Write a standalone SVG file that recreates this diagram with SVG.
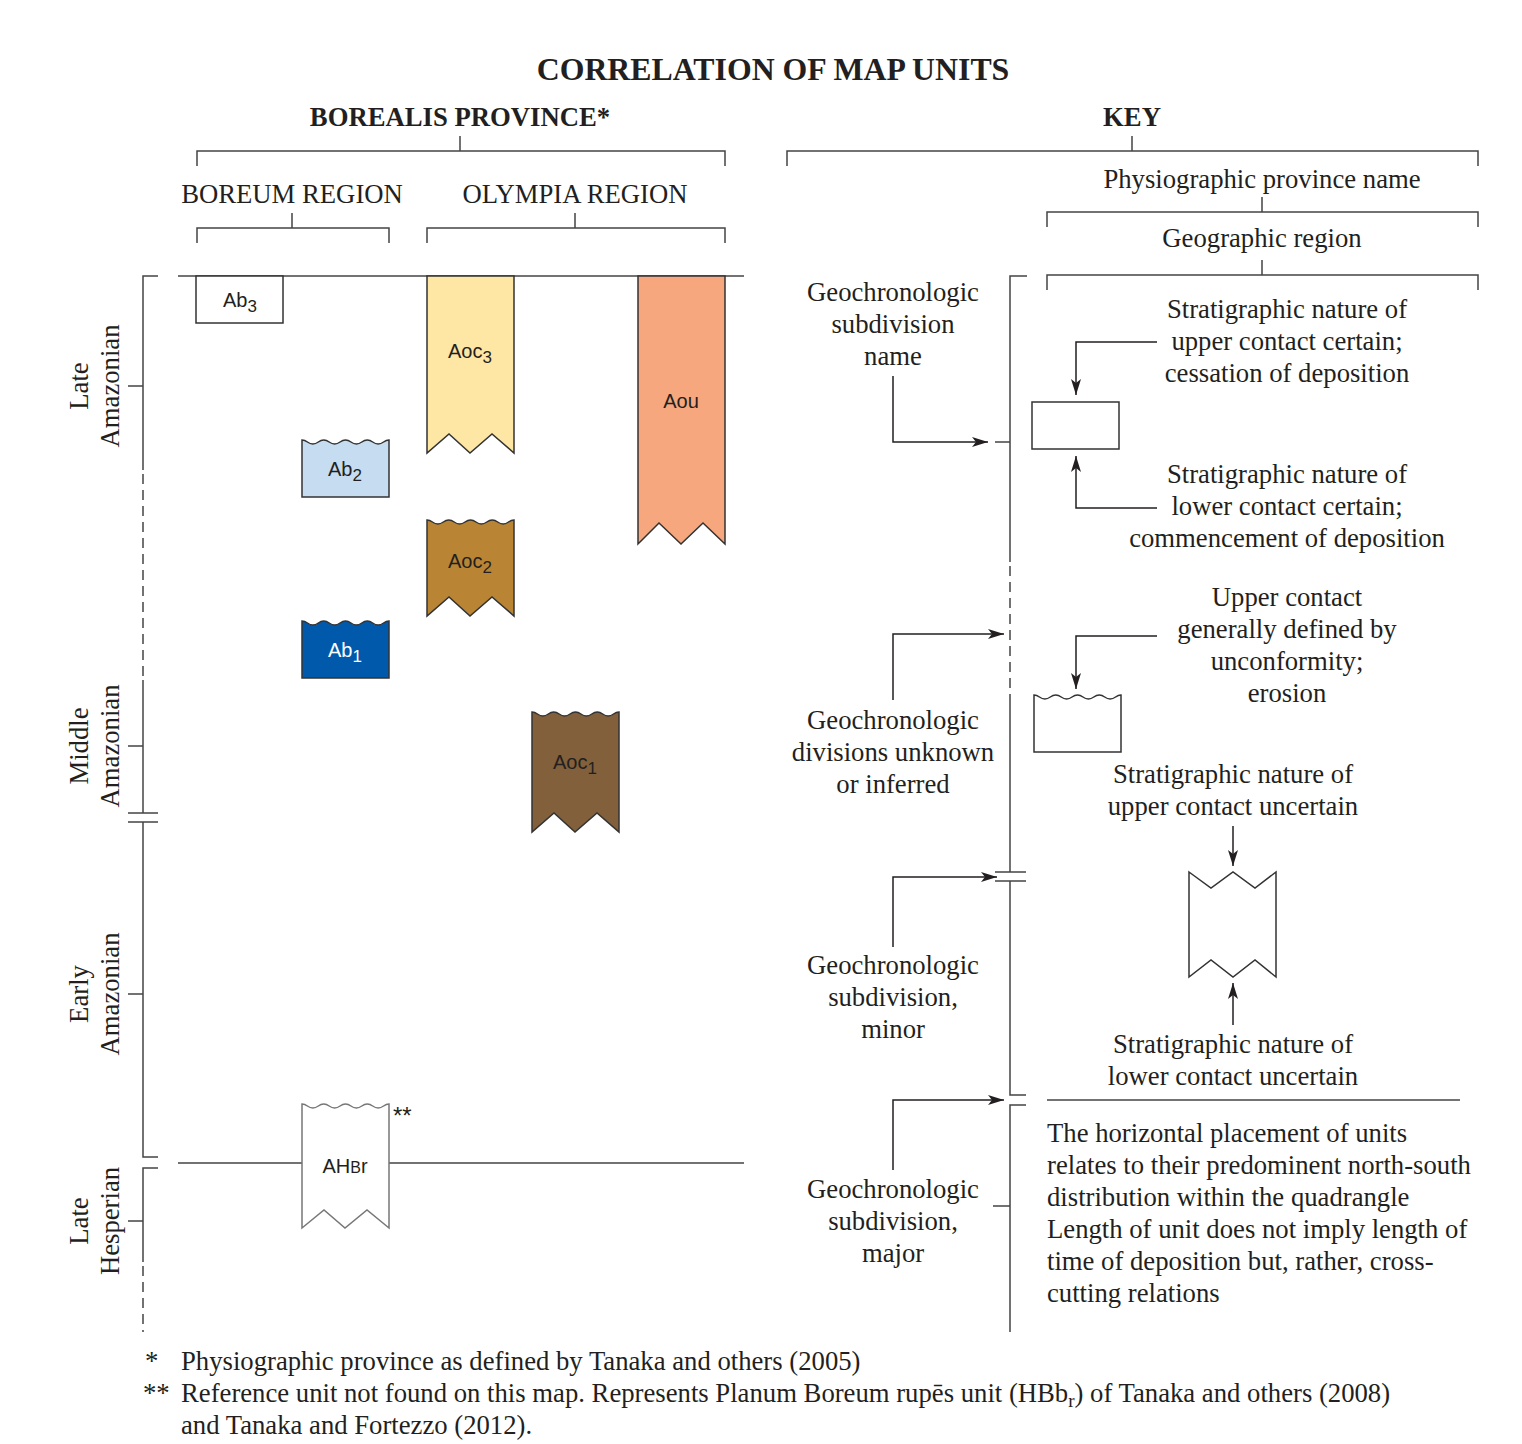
<svg xmlns="http://www.w3.org/2000/svg" width="1522" height="1444" viewBox="0 0 1522 1444">
<defs>
<style>
.serif{font-family:"Liberation Serif","Times New Roman",serif;fill:#231f20}
.t26{font-size:26.7px}
.bold{font-weight:bold}
.sans{font-family:"Liberation Sans",Arial,sans-serif;font-size:20px;fill:#231f20}
.ln{fill:none;stroke:#444;stroke-width:1.5}
.dash{fill:none;stroke:#444;stroke-width:1.5;stroke-dasharray:10 6}
.conn{fill:none;stroke:#231f20;stroke-width:1.5}
.unit{stroke:#333;stroke-width:1.5}
</style>
<marker id="ah" viewBox="0 0 16 10" refX="16" refY="5" markerWidth="16" markerHeight="10" markerUnits="userSpaceOnUse" orient="auto">
<path d="M0,0 L16,5 L0,10 L4,5 Z" fill="#231f20"/>
</marker>
</defs>
<rect width="1522" height="1444" fill="#fff"/>

<!-- Titles -->
<g id="titles">
<text class="serif bold" x="773" y="80" font-size="31.8" text-anchor="middle">CORRELATION OF MAP UNITS</text>
<text class="serif bold t26" x="460" y="126" text-anchor="middle">BOREALIS PROVINCE*</text>
<text class="serif bold t26" x="1132" y="126" text-anchor="middle">KEY</text>
<text class="serif t26" x="292" y="203" text-anchor="middle">BOREUM REGION</text>
<text class="serif t26" x="575" y="203" text-anchor="middle">OLYMPIA REGION</text>
<text class="serif t26" x="1262" y="188" text-anchor="middle">Physiographic province name</text>
<text class="serif t26" x="1262" y="247" text-anchor="middle">Geographic region</text>
</g>

<!-- Brackets and axes -->
<g id="frame">
<path class="ln" d="M460,136 V151 M197,166 V151 H725 V166"/>
<path class="ln" d="M1132,136 V151 M787,166 V151 H1478 V166"/>
<path class="ln" d="M292,213 V228 M197,243 V228 H389 V243"/>
<path class="ln" d="M575,213 V228 M427,243 V228 H725 V243"/>
<path class="ln" d="M1262,197 V212 M1047,227 V212 H1478 V227"/>
<path class="ln" d="M1262,260 V275 M1047,290 V275 H1478 V290"/>
<path class="ln" d="M178,276 H744"/>
<path class="ln" d="M178,1163 H302 M389,1163 H744"/>
<path class="ln" d="M158,276 H143 V470"/>
<path class="dash" d="M143,474 V680"/>
<path class="ln" d="M143,680 V813"/>
<path class="ln" d="M128,386 H143 M128,746 H143 M128,813 H158 M128,822 H158 M128,994 H143 M128,1221 H143"/>
<path class="ln" d="M143,822 V1157 H158 M158,1168 H143 V1262"/>
<path class="dash" d="M143,1266 V1332"/>
<path class="ln" d="M1027,276 H1010 V562"/>
<path class="dash" d="M1010,566 V700"/>
<path class="ln" d="M1010,700 V872"/>
<path class="ln" d="M995,872 H1026 M995,881 H1026"/>
<path class="ln" d="M1010,881 V1095 H1026 M1026,1105 H1010 V1332"/>
<path class="ln" d="M995,442 H1010 M993,1206 H1010"/>
<path class="ln" d="M1047,1100 H1460"/>
</g>

<!-- Time labels -->
<g id="time-labels" class="serif t26" text-anchor="middle">
<text transform="translate(88,386) rotate(-90)">Late</text>
<text transform="translate(119,386) rotate(-90)">Amazonian</text>
<text transform="translate(88,746) rotate(-90)">Middle</text>
<text transform="translate(119,746) rotate(-90)">Amazonian</text>
<text transform="translate(88,994) rotate(-90)">Early</text>
<text transform="translate(119,994) rotate(-90)">Amazonian</text>
<text transform="translate(88,1221) rotate(-90)">Late</text>
<text transform="translate(119,1221) rotate(-90)">Hesperian</text>
</g>

<!-- Units -->
<g id="unit-Ab3">
<rect class="unit" x="196" y="276" width="87" height="47" fill="#fff"/>
<text class="sans" x="240" y="307" text-anchor="middle">Ab<tspan font-size="17" dy="5">3</tspan></text>
</g>
<g id="unit-Aoc3">
<path class="unit" fill="#fee6a5" d="M427,276 H514 V453 L492,434 L470,453 L449,434 L427,453 Z"/>
<text class="sans" x="470" y="358" text-anchor="middle">Aoc<tspan font-size="17" dy="5">3</tspan></text>
</g>
<g id="unit-Aou">
<path class="unit" fill="#f6a77e" d="M638,276 H725 V544 L703,523 L681,544 L659,523 L638,544 Z"/>
<text class="sans" x="681" y="408" text-anchor="middle">Aou</text>
</g>
<g id="unit-Ab2">
<path class="unit" fill="#c6dcf1" d="M302,497 V440 c5.44,0 5.44,4 10.875,4 c5.44,0 5.44,-4 10.875,-4 c5.44,0 5.44,4 10.875,4 c5.44,0 5.44,-4 10.875,-4 c5.44,0 5.44,4 10.875,4 c5.44,0 5.44,-4 10.875,-4 c5.44,0 5.44,4 10.875,4 c5.44,0 5.44,-4 10.875,-4 V497 Z"/>
<text class="sans" x="345" y="476" text-anchor="middle">Ab<tspan font-size="17" dy="5">2</tspan></text>
</g>
<g id="unit-Aoc2">
<path class="unit" fill="#b98534" d="M427,616 V520 c5.44,0 5.44,4 10.875,4 c5.44,0 5.44,-4 10.875,-4 c5.44,0 5.44,4 10.875,4 c5.44,0 5.44,-4 10.875,-4 c5.44,0 5.44,4 10.875,4 c5.44,0 5.44,-4 10.875,-4 c5.44,0 5.44,4 10.875,4 c5.44,0 5.44,-4 10.875,-4 V616 L492,597 L470,616 L449,597 Z"/>
<text class="sans" x="470" y="568" text-anchor="middle">Aoc<tspan font-size="17" dy="5">2</tspan></text>
</g>
<g id="unit-Ab1">
<path class="unit" fill="#0059ab" d="M302,678 V621 c5.44,0 5.44,4 10.875,4 c5.44,0 5.44,-4 10.875,-4 c5.44,0 5.44,4 10.875,4 c5.44,0 5.44,-4 10.875,-4 c5.44,0 5.44,4 10.875,4 c5.44,0 5.44,-4 10.875,-4 c5.44,0 5.44,4 10.875,4 c5.44,0 5.44,-4 10.875,-4 V678 Z"/>
<text class="sans" x="345" y="657" text-anchor="middle" style="fill:#fff">Ab<tspan font-size="17" dy="5">1</tspan></text>
</g>
<g id="unit-Aoc1">
<path class="unit" fill="#81603b" d="M532,832 V712 c5.44,0 5.44,4 10.875,4 c5.44,0 5.44,-4 10.875,-4 c5.44,0 5.44,4 10.875,4 c5.44,0 5.44,-4 10.875,-4 c5.44,0 5.44,4 10.875,4 c5.44,0 5.44,-4 10.875,-4 c5.44,0 5.44,4 10.875,4 c5.44,0 5.44,-4 10.875,-4 V832 L597,813 L575,832 L554,813 Z"/>
<text class="sans" x="575" y="769" text-anchor="middle">Aoc<tspan font-size="17" dy="5">1</tspan></text>
</g>
<g id="unit-AHBr">
<path fill="#fff" stroke="#777" stroke-width="1.5" d="M302,1228 V1104 c5.44,0 5.44,4 10.875,4 c5.44,0 5.44,-4 10.875,-4 c5.44,0 5.44,4 10.875,4 c5.44,0 5.44,-4 10.875,-4 c5.44,0 5.44,4 10.875,4 c5.44,0 5.44,-4 10.875,-4 c5.44,0 5.44,4 10.875,4 c5.44,0 5.44,-4 10.875,-4 V1228 L367,1210 L345,1228 L324,1210 Z"/>
<text class="sans" x="345" y="1173" text-anchor="middle">AH<tspan font-size="16">B</tspan>r</text>
<text class="sans" x="393" y="1124" style="font-size:24px">**</text>
</g>

<!-- Key nodes -->
<g id="key-certain-box">
<rect class="unit" x="1032" y="402" width="87" height="47" fill="#fff" stroke="#231f20"/>
</g>
<g id="key-unconformity-box">
<path class="unit" fill="#fff" stroke="#231f20" d="M1034,752 V695 c5.44,0 5.44,4 10.875,4 c5.44,0 5.44,-4 10.875,-4 c5.44,0 5.44,4 10.875,4 c5.44,0 5.44,-4 10.875,-4 c5.44,0 5.44,4 10.875,4 c5.44,0 5.44,-4 10.875,-4 c5.44,0 5.44,4 10.875,4 c5.44,0 5.44,-4 10.875,-4 V752 Z"/>
</g>
<g id="key-uncertain-box">
<path class="unit" fill="#fff" stroke="#231f20" d="M1189,872 L1211,888 L1233,872 L1255,888 L1276,872 V977 L1255,960 L1233,977 L1211,960 L1189,977 Z"/>
</g>

<g id="key-labels" class="serif t26" text-anchor="middle">
<text x="893" y="301">Geochronologic</text>
<text x="893" y="333">subdivision</text>
<text x="893" y="365">name</text>
<text x="1287" y="318">Stratigraphic nature of</text>
<text x="1287" y="350">upper contact certain;</text>
<text x="1287" y="382">cessation of deposition</text>
<text x="1287" y="483">Stratigraphic nature of</text>
<text x="1287" y="515">lower contact certain;</text>
<text x="1287" y="547">commencement of deposition</text>
<text x="1287" y="606">Upper contact</text>
<text x="1287" y="638">generally defined by</text>
<text x="1287" y="670">unconformity;</text>
<text x="1287" y="702">erosion</text>
<text x="893" y="729">Geochronologic</text>
<text x="893" y="761">divisions unknown</text>
<text x="893" y="793">or inferred</text>
<text x="1233" y="783">Stratigraphic nature of</text>
<text x="1233" y="815">upper contact uncertain</text>
<text x="893" y="974">Geochronologic</text>
<text x="893" y="1006">subdivision,</text>
<text x="893" y="1038">minor</text>
<text x="1233" y="1053">Stratigraphic nature of</text>
<text x="1233" y="1085">lower contact uncertain</text>
<text x="893" y="1198">Geochronologic</text>
<text x="893" y="1230">subdivision,</text>
<text x="893" y="1262">major</text>
</g>
<g id="key-note" class="serif t26">
<text x="1047" y="1142">The horizontal placement of units</text>
<text x="1047" y="1174">relates to their predominent north-south</text>
<text x="1047" y="1206">distribution within the quadrangle</text>
<text x="1047" y="1238">Length of unit does not imply length of</text>
<text x="1047" y="1270">time of deposition but, rather, cross-</text>
<text x="1047" y="1302">cutting relations</text>
</g>

<!-- Connectors -->
<g id="connectors">
<path class="conn" marker-end="url(#ah)" d="M893,376 V442 H988"/>
<path class="conn" marker-end="url(#ah)" d="M1157,342 H1076 V395"/>
<path class="conn" marker-end="url(#ah)" d="M1157,508 H1076 V456"/>
<path class="conn" marker-end="url(#ah)" d="M1157,636 H1076 V689"/>
<path class="conn" marker-end="url(#ah)" d="M1233,826 V866"/>
<path class="conn" marker-end="url(#ah)" d="M1233,1025 V983"/>
<path class="conn" marker-end="url(#ah)" d="M893,700 V634 H1004"/>
<path class="conn" marker-end="url(#ah)" d="M893,947 V877 H997"/>
<path class="conn" marker-end="url(#ah)" d="M893,1170 V1100 H1004"/>
</g>

<!-- Footnotes -->
<g id="footnotes" class="serif t26">
<text x="145" y="1370">*</text>
<text x="181" y="1370">Physiographic province as defined by Tanaka and others (2005)</text>
<text x="143" y="1402">**</text>
<text x="181" y="1402">Reference unit not found on this map. Represents Planum Boreum rupēs unit (HBb<tspan font-size="19" dy="5">r</tspan><tspan dy="-5">) of Tanaka and others (2008)</tspan></text>
<text x="181" y="1434">and Tanaka and Fortezzo (2012).</text>
</g>
</svg>
